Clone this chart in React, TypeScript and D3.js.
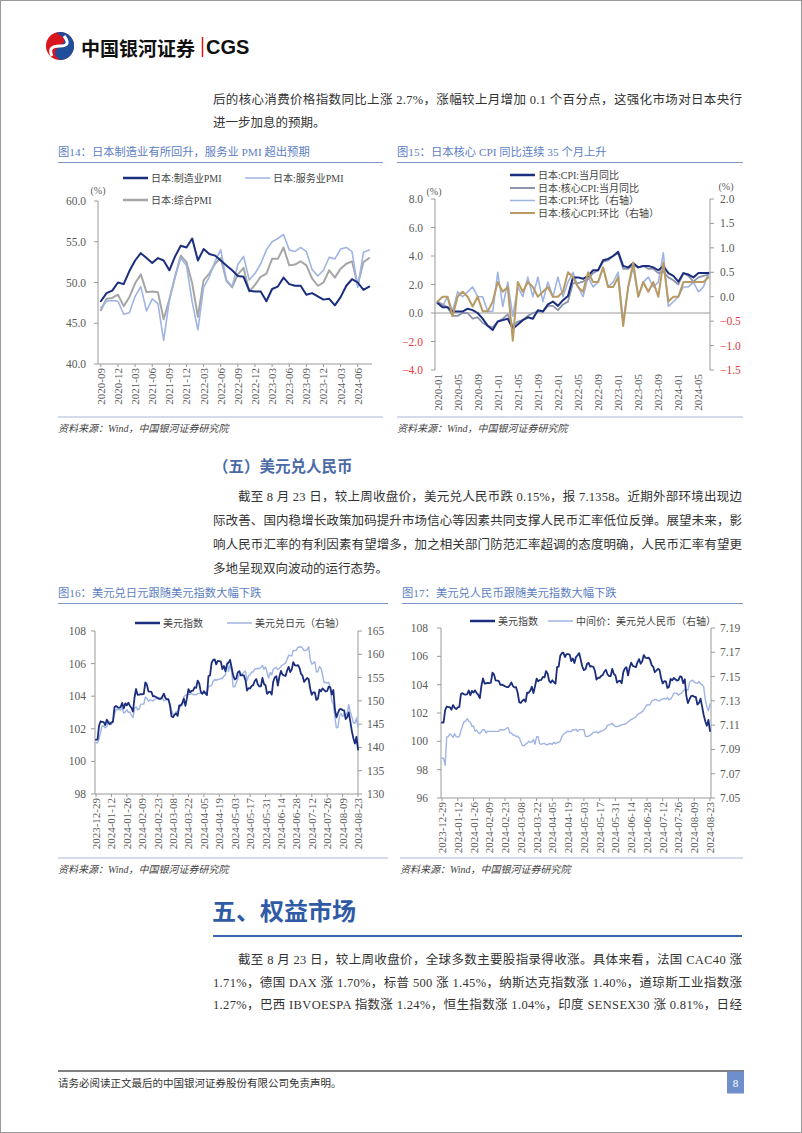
import * as d3 from "d3";

const SERIF = "'Liberation Serif','Noto Sans CJK SC',serif";
const SANS = "'Noto Sans CJK SC','Noto Sans',sans-serif";

const NAVY = "#1b2d7d";
const LIGHT = "#9fb4e3";
const GRAY = "#a6a6a6";
const CORE = "#8d95ad";
const TAN = "#b89a62";
const AXIS = "#9a9a9a";
const LABEL = "#5a5a5a";
const RED = "#e0393e";
const TITLE = "#5c7ec2";
const RULE = "#a9b8d9";

const fmtMonth = d3.timeFormat("%Y-%m");
const fmtDay = d3.timeFormat("%Y-%m-%d");

// 图14 Japan PMI, 2020-09 .. 2024-08
const pmiMonths = d3.timeMonth.range(new Date(2020, 8, 1), new Date(2024, 8, 1)).map(fmtMonth);
const pmiTicks = ["2020-09", "2020-12", "2021-03", "2021-06", "2021-09", "2021-12", "2022-03", "2022-06",
  "2022-09", "2022-12", "2023-03", "2023-06", "2023-09", "2023-12", "2024-03", "2024-06"];
const pmiMfg = [47.7, 48.7, 49.0, 50.0,
  49.8, 51.4, 52.7, 53.6, 53.0, 52.4, 53.0, 52.7, 51.5, 53.2, 54.5, 54.3,
  55.4, 52.7, 54.1, 53.5, 53.3, 52.7, 52.1, 51.5, 50.8, 50.7, 49.0, 48.9,
  48.9, 47.7, 49.2, 49.5, 50.6, 49.8, 49.6, 49.6, 48.5, 48.7, 48.3, 47.9,
  48.0, 47.2, 48.2, 49.6, 50.4, 50.0, 49.1, 49.5];
const pmiSvc = [46.9, 47.7, 47.8, 47.7,
  46.1, 46.3, 48.3, 49.5, 46.5, 48.0, 47.4, 42.9, 47.8, 50.7, 53.0, 52.1,
  47.6, 44.2, 49.4, 50.7, 52.6, 54.0, 50.3, 49.5, 52.2, 53.2, 50.3, 51.1,
  52.3, 54.0, 55.0, 55.4, 55.9, 54.0, 53.8, 54.3, 53.8, 51.6, 50.8, 51.5,
  53.1, 52.9, 54.1, 54.3, 53.8, 49.4, 53.7, 54.0];
const pmiComp = [46.6, 48.0, 48.1, 48.5,
  47.1, 48.2, 49.9, 51.0, 48.8, 48.9, 48.8, 45.5, 47.9, 50.7, 53.3, 52.5,
  49.9, 45.8, 50.3, 51.1, 52.3, 53.0, 50.2, 49.4, 51.0, 51.8, 48.9, 49.7,
  50.7, 51.1, 52.9, 52.9, 54.3, 52.1, 52.2, 52.6, 52.1, 50.5, 49.6, 50.0,
  51.5, 50.6, 51.7, 52.3, 52.6, 49.7, 52.5, 53.0];

// 图15 Japan CPI, 2020-01 .. 2024-07
const cpiMonths = d3.timeMonth.range(new Date(2020, 0, 1), new Date(2024, 7, 1)).map(fmtMonth);
const cpiTicks = ["2020-01", "2020-05", "2020-09", "2021-01", "2021-05", "2021-09", "2022-01", "2022-05",
  "2022-09", "2023-01", "2023-05", "2023-09", "2024-01", "2024-05"];
const cpiYoY = [0.7, 0.4, 0.4, 0.1, 0.1, 0.1, 0.3, 0.2, 0.0, -0.4, -0.9, -1.2,
  -0.6, -0.5, -0.4, -1.1, -0.8, -0.5, -0.3, -0.4, 0.2, 0.1, 0.6, 0.8,
  0.5, 0.9, 1.2, 2.5, 2.5, 2.4, 2.6, 3.0, 3.0, 3.7, 3.8, 4.0,
  4.3, 3.3, 3.2, 3.5, 3.2, 3.3, 3.3, 3.2, 3.0, 3.3, 2.8, 2.6,
  2.2, 2.8, 2.7, 2.5, 2.8, 2.8, 2.8];
const coreYoY = [0.8, 0.6, 0.4, -0.2, -0.2, 0.0, 0.0, -0.4, -0.3, -0.7, -0.9, -1.0,
  -0.6, -0.4, -0.1, -0.9, -0.6, -0.5, -0.2, 0.0, 0.1, 0.1, 0.5, 0.5,
  0.2, 0.6, 0.8, 2.1, 2.1, 2.2, 2.4, 2.8, 3.0, 3.6, 3.7, 4.0,
  4.2, 3.1, 3.1, 3.4, 3.2, 3.3, 3.1, 3.1, 2.8, 2.9, 2.5, 2.3,
  2.0, 2.8, 2.6, 2.2, 2.5, 2.6, 2.7];
const cpiMoM = [-0.1, -0.2, 0.0, -0.3, 0.1, 0.0, 0.1, 0.2, 0.0, 0.0, -0.3, -0.3,
  0.5, -0.2, 0.3, -0.4, 0.2, 0.0, 0.4, 0.0, 0.4, -0.1, 0.3, 0.0,
  0.4, 0.0, 0.3, 0.5, 0.2, 0.0, 0.4, 0.2, 0.3, 0.6, 0.2, 0.3,
  0.5, -0.5, 0.2, 0.6, 0.0, 0.3, 0.4, 0.2, 0.3, 0.9, -0.2, -0.1,
  0.0, 0.2, 0.2, 0.3, 0.1, 0.2, 0.5];
const coreMoM = [-0.1, 0.0, 0.0, -0.4, 0.0, 0.1, 0.0, -0.2, 0.0, -0.3, -0.3, -0.1,
  0.3, 0.1, 0.2, -0.9, 0.3, 0.1, 0.3, 0.2, 0.0, 0.1, 0.2, 0.0,
  0.0, 0.1, 0.5, 0.4, 0.2, 0.1, 0.5, 0.3, 0.3, 0.6, 0.2, 0.2,
  0.4, -0.6, 0.2, 0.7, 0.0, 0.3, 0.1, 0.3, 0.0, 0.7, -0.1, 0.0,
  0.0, 0.3, 0.3, 0.3, 0.3, 0.3, 0.4];

// 图16/17 daily, 2023-12-29 .. 2024-08-23 (weekdays)
const fxDays = d3.timeDay.range(new Date(2023, 11, 29), new Date(2024, 7, 24))
  .filter((d) => d.getDay() % 6 !== 0).map(fmtDay);
const fxTicks = ["2023-12-29", "2024-01-12", "2024-01-26", "2024-02-09", "2024-02-23", "2024-03-08",
  "2024-03-22", "2024-04-05", "2024-04-19", "2024-05-03", "2024-05-17", "2024-05-31", "2024-06-14",
  "2024-06-28", "2024-07-12", "2024-07-26", "2024-08-09", "2024-08-23"];
const dxy = [101.33,
  101.33, 102.20, 102.46, 102.42, 102.41,
  102.23, 102.56, 102.37, 102.28, 102.40,
  102.43, 103.34, 103.40, 103.32, 103.29,
  103.33, 103.59, 103.25, 103.56, 103.44,
  103.60, 103.40, 103.28, 103.05, 103.92,
  104.44, 104.08, 104.10, 104.12, 104.11,
  104.14, 104.85, 104.71, 104.30, 104.28,
  104.26, 103.99, 104.00, 103.95, 103.89,
  103.83, 103.83, 103.96, 104.16, 103.90,
  103.81, 103.82, 103.43, 102.77, 102.71,
  102.87, 102.95, 102.79, 103.43, 103.43,
  103.58, 103.85, 103.41, 103.88, 104.43,
  104.24, 104.32, 104.34, 104.55, 104.51,
  104.96, 104.78, 104.26, 104.14, 104.31,
  104.17, 104.07, 105.24, 105.28, 106.04,
  106.22, 106.26, 105.95, 106.16, 106.15,
  106.12, 105.67, 105.85, 105.53, 105.95,
  106.06, 106.23, 105.76, 105.28, 105.03,
  105.09, 105.46, 105.54, 105.28, 105.30,
  105.26, 104.98, 104.35, 104.49, 104.48,
  104.62, 104.68, 104.93, 105.05, 104.72,
  104.60, 104.61, 105.12, 104.75, 104.67,
  104.14, 104.25, 104.28, 104.10, 104.89,
  105.15, 105.23, 104.65, 105.20, 105.55,
  105.33, 105.28, 105.24, 105.58, 105.80,
  105.48, 105.63, 106.09, 105.90, 105.87,
  105.91, 105.75, 105.38, 105.26, 104.88,
  105.00, 105.12, 105.04, 104.45, 104.09,
  104.24, 104.23, 103.77, 103.84, 104.40,
  104.30, 104.48, 104.38, 104.29, 104.32,
  104.59, 104.55, 104.10, 104.38, 103.21,
  102.70, 102.97, 103.19, 103.22, 103.14,
  103.13, 102.60, 102.71, 103.01, 102.45,
  101.86, 101.42, 101.10, 101.51, 100.72];
const usdjpy = [141.0,
  141.0, 141.9, 143.3, 144.6, 144.6,
  144.2, 144.5, 145.7, 145.3, 144.9,
  145.7, 147.2, 148.1, 148.2, 148.1,
  148.1, 148.4, 147.4, 147.6, 148.1,
  147.5, 147.6, 146.9, 146.4, 148.4,
  148.7, 148.1, 148.2, 149.3, 149.3,
  149.3, 150.8, 150.6, 149.9, 150.2,
  150.1, 150.0, 150.3, 150.5, 150.5,
  150.7, 150.5, 150.7, 150.0, 150.1,
  150.5, 150.0, 149.4, 148.0, 147.1,
  146.9, 147.7, 147.8, 148.3, 149.0,
  149.1, 150.9, 151.2, 151.3, 151.4,
  151.4, 151.6, 151.3, 151.4, 151.3,
  151.6, 151.6, 151.6, 151.7, 151.6,
  151.9, 151.8, 153.0, 153.2, 153.3,
  154.2, 154.6, 154.4, 154.6, 154.6,
  154.8, 154.8, 155.3, 155.6, 158.3,
  156.3, 157.8, 156.4, 153.0, 153.0,
  153.9, 154.7, 155.6, 155.5, 155.8,
  156.2, 156.4, 154.3, 155.4, 155.6,
  156.2, 156.2, 156.8, 156.9, 157.0,
  156.9, 157.2, 157.6, 156.8, 157.3,
  156.1, 154.9, 156.1, 155.6, 156.8,
  157.0, 157.2, 156.7, 157.0, 157.4,
  157.7, 157.9, 158.1, 158.9, 159.8,
  159.7, 159.7, 160.8, 160.8, 160.9,
  161.5, 161.5, 161.7, 161.3, 160.8,
  160.8, 161.0, 161.6, 158.9, 157.9,
  158.1, 158.4, 156.2, 156.3, 157.4,
  157.0, 155.6, 153.9, 154.0, 153.8,
  154.0, 152.8, 150.0, 149.4, 146.5,
  144.2, 144.3, 146.7, 147.3, 146.6,
  147.2, 146.9, 147.4, 149.2, 147.6,
  146.6, 145.3, 145.2, 146.3, 144.4];
const usdcny = [7.0827,
  7.0827, 7.0770, 7.1002, 7.1006, 7.1029,
  7.1016, 7.1000, 7.1029, 7.1006, 7.1002,
  7.1007, 7.1055, 7.1094, 7.1128, 7.1134,
  7.1153, 7.1133, 7.1124, 7.1089, 7.1094,
  7.1049, 7.1060, 7.1039, 7.1030, 7.1049,
  7.1064, 7.1061, 7.1036, 7.1049, 7.1049,
  7.1049, 7.1049, 7.1049, 7.1049, 7.1049,
  7.1049, 7.1064, 7.1060, 7.1062, 7.1064,
  7.1075, 7.1079, 7.1036, 7.1036, 7.1018,
  7.1020, 7.1006, 7.1009, 7.0994, 7.0963,
  7.0934, 7.0930, 7.0943, 7.0950, 7.0968,
  7.0957, 7.0960, 7.0982, 7.0943, 7.1004,
  7.1004, 7.0946, 7.0943, 7.0948, 7.0950,
  7.0938, 7.0938, 7.0949, 7.0947, 7.0943,
  7.0959, 7.0947, 7.0957, 7.0957, 7.0968,
  7.1004, 7.1025, 7.1033, 7.1046, 7.1048,
  7.1049, 7.1048, 7.1063, 7.1058, 7.1066,
  7.1049, 7.1063, 7.1063, 7.1063, 7.1063,
  7.1008, 7.1006, 7.1010, 7.1018, 7.1026,
  7.1042, 7.1040, 7.1045, 7.1036, 7.1045,
  7.1052, 7.1055, 7.1064, 7.1073, 7.1098,
  7.1102, 7.1106, 7.1115, 7.1098, 7.1088,
  7.1088, 7.1091, 7.1097, 7.1102, 7.1106,
  7.1106, 7.1115, 7.1128, 7.1135, 7.1148,
  7.1151, 7.1159, 7.1167, 7.1186, 7.1196,
  7.1201, 7.1211, 7.1225, 7.1247, 7.1268,
  7.1265, 7.1270, 7.1297, 7.1305, 7.1312,
  7.1309, 7.1302, 7.1299, 7.1311, 7.1315,
  7.1321, 7.1313, 7.1327, 7.1309, 7.1315,
  7.1335, 7.1361, 7.1363, 7.1363, 7.1346,
  7.1358, 7.1363, 7.1382, 7.1394, 7.1391,
  7.1389, 7.1450, 7.1465, 7.1470, 7.1455,
  7.1448, 7.1445, 7.1460, 7.1440, 7.1432,
  7.1415, 7.1310, 7.1252, 7.1218, 7.1275];

const line = (x, y, cats, vals) =>
  d3.line().x((_, i) => x(cats[i])).y((d) => y(d))(vals) || "";

const Series = ({ d, color, w }) => (
  <path d={d} fill="none" stroke={color} strokeWidth={w} strokeLinejoin="round" strokeLinecap="round" />
);

const YAxis = ({ x, y, ticks, side, fmt, labelX, color }) => {
  const dir = side === "left" ? -1 : 1;
  const [r0, r1] = y.range();
  return (
    <g>
      <line x1={x} x2={x} y1={r0} y2={r1} stroke={AXIS} />
      {ticks.map((t) => (
        <g key={t}>
          <line x1={x} x2={x + dir * 4} y1={y(t)} y2={y(t)} stroke={AXIS} />
          <text x={labelX} y={y(t)} textAnchor={side === "left" ? "end" : "start"} dominantBaseline="central"
            fill={color ? color(t) : LABEL} fontSize={11.5} fontFamily={SERIF}>{fmt(t)}</text>
        </g>
      ))}
    </g>
  );
};

const XLabels = ({ x, ticks, y0, tick }) => (
  <g>
    {ticks.map((t) => (
      <g key={t}>
        {tick && <line x1={x(t)} x2={x(t)} y1={y0} y2={y0 + 3} stroke={AXIS} />}
        <text transform={`translate(${x(t)},${y0 + 4}) rotate(-90)`} textAnchor="end" dominantBaseline="central"
          fill={LABEL} fontSize={11} fontFamily={SERIF}>{t}</text>
      </g>
    ))}
  </g>
);

const Legend = ({ x, y, color, w, label }) => (
  <g>
    <line x1={x} x2={x + 25} y1={y} y2={y} stroke={color} strokeWidth={w} />
    <text x={x + 28} y={y} dominantBaseline="central" fontSize={10} fill="#444" fontFamily={SERIF}>{label}</text>
  </g>
);

const FigTitle = ({ x, y, x2, label }) => (
  <g>
    <text x={x} y={y} dominantBaseline="central" fontSize={11.3} fill={TITLE} fontFamily={SERIF}>{label}</text>
    <line x1={x} x2={x2} y1={y + 10.5} y2={y + 10.5} stroke="#7f96c8" strokeWidth={1} />
  </g>
);

const Source = ({ x, y, x2 }) => (
  <g>
    <line x1={x} x2={x2} y1={y - 11} y2={y - 11} stroke={RULE} strokeWidth={1} />
    <text x={x} y={y} dominantBaseline="central" fontSize={10} fontStyle="italic" fill="#444" fontFamily={SERIF}>
      资料来源：Wind，中国银河证券研究院
    </text>
  </g>
);

const Chart14 = () => {
  const x = d3.scalePoint().domain(pmiMonths).range([98, 372]).padding(0.5);
  const y = d3.scaleLinear().domain([40, 60]).range([364, 201]);
  return (
    <g>
      <FigTitle x={58} y={152} x2={383} label="图14：日本制造业有所回升，服务业 PMI 超出预期" />
      <Legend x={123} y={178} color={NAVY} w={2.5} label="日本:制造业PMI" />
      <Legend x={245} y={178} color={LIGHT} w={1.5} label="日本:服务业PMI" />
      <Legend x={123} y={200} color={GRAY} w={2.5} label="日本:综合PMI" />
      <text x={98} y={190} textAnchor="middle" dominantBaseline="central" fontSize={10} fill={LABEL} fontFamily={SERIF}>(%)</text>
      <YAxis x={98} y={y} ticks={[40, 45, 50, 55, 60]} side="left" fmt={d3.format(".1f")} labelX={86} />
      <line x1={98} x2={372} y1={364} y2={364} stroke={AXIS} />
      <XLabels x={x} ticks={pmiTicks} y0={364} tick />
      <Series d={line(x, y, pmiMonths, pmiComp)} color={GRAY} w={2} />
      <Series d={line(x, y, pmiMonths, pmiSvc)} color={LIGHT} w={1.6} />
      <Series d={line(x, y, pmiMonths, pmiMfg)} color={NAVY} w={2} />
      <Source x={58} y={428} x2={383} />
    </g>
  );
};

const Chart15 = () => {
  const x = d3.scalePoint().domain(cpiMonths).range([435, 711]).padding(0.5);
  const yl = d3.scaleLinear().domain([-4, 8]).range([370, 199]);
  const yr = d3.scaleLinear().domain([-1.5, 2]).range([370, 199]);
  const neg = (t) => (t < 0 ? RED : LABEL);
  return (
    <g>
      <FigTitle x={397} y={152} x2={743} label="图15：日本核心 CPI 同比连续 35 个月上升" />
      <Legend x={510} y={175} color={NAVY} w={2.5} label="日本:CPI:当月同比" />
      <Legend x={510} y={188} color={CORE} w={2} label="日本:核心CPI:当月同比" />
      <Legend x={510} y={200.5} color={LIGHT} w={1.5} label="日本:CPI:环比（右轴）" />
      <Legend x={510} y={213} color={TAN} w={2} label="日本:核心CPI:环比（右轴）" />
      <text x={434} y={191} textAnchor="middle" dominantBaseline="central" fontSize={10} fill={LABEL} fontFamily={SERIF}>(%)</text>
      <text x={726} y={186} textAnchor="middle" dominantBaseline="central" fontSize={10} fill={LABEL} fontFamily={SERIF}>(%)</text>
      <YAxis x={435} y={yl} ticks={[-4, -2, 0, 2, 4, 6, 8]} side="left" fmt={d3.format(".1f")} labelX={423} color={neg} />
      <YAxis x={710} y={yr} ticks={[-1.5, -1, -0.5, 0, 0.5, 1, 1.5, 2]} side="right" fmt={d3.format(".1f")} labelX={720} color={neg} />
      <line x1={435} x2={710} y1={yl(0)} y2={yl(0)} stroke={AXIS} />
      <XLabels x={x} ticks={cpiTicks} y0={370} />
      <Series d={line(x, yr, cpiMonths, cpiMoM)} color={LIGHT} w={1.6} />
      <Series d={line(x, yl, cpiMonths, coreYoY)} color={CORE} w={1.8} />
      <Series d={line(x, yl, cpiMonths, cpiYoY)} color={NAVY} w={2} />
      <Series d={line(x, yr, cpiMonths, coreMoM)} color={TAN} w={2} />
      <Source x={397} y={428} x2={743} />
    </g>
  );
};

const Chart16 = () => {
  const x = d3.scalePoint().domain(fxDays).range([96, 358]);
  const yl = d3.scaleLinear().domain([98, 108]).range([794, 631]);
  const yr = d3.scaleLinear().domain([130, 165]).range([794, 631]);
  return (
    <g>
      <FigTitle x={58} y={593} x2={388} label="图16：美元兑日元跟随美元指数大幅下跌" />
      <Legend x={135} y={623} color={NAVY} w={2.5} label="美元指数" />
      <Legend x={227} y={623} color={LIGHT} w={1.5} label="美元兑日元（右轴）" />
      <YAxis x={95} y={yl} ticks={[98, 100, 102, 104, 106, 108]} side="left" fmt={d3.format("d")} labelX={86} />
      <YAxis x={358} y={yr} ticks={[130, 135, 140, 145, 150, 155, 160, 165]} side="right" fmt={d3.format("d")} labelX={367} />
      <line x1={95} x2={358} y1={794} y2={794} stroke={AXIS} />
      <XLabels x={x} ticks={fxTicks} y0={794} tick />
      <Series d={line(x, yr, fxDays, usdjpy)} color={LIGHT} w={1.4} />
      <Series d={line(x, yl, fxDays, dxy)} color={NAVY} w={1.8} />
      <Source x={58} y={869} x2={388} />
    </g>
  );
};

const Chart17 = () => {
  const x = d3.scalePoint().domain(fxDays).range([442, 710]);
  const yl = d3.scaleLinear().domain([96, 108]).range([798, 628]);
  const yr = d3.scaleLinear().domain([7.05, 7.19]).range([798, 628]);
  return (
    <g>
      <FigTitle x={402} y={593} x2={743} label="图17：美元兑人民币跟随美元指数大幅下跌" />
      <Legend x={470} y={621} color={NAVY} w={2.5} label="美元指数" />
      <Legend x={548} y={621} color={LIGHT} w={1.5} label="中间价：美元兑人民币（右轴）" />
      <YAxis x={441} y={yl} ticks={[96, 98, 100, 102, 104, 106, 108]} side="left" fmt={d3.format("d")} labelX={428} />
      <YAxis x={711} y={yr} ticks={[7.05, 7.07, 7.09, 7.11, 7.13, 7.15, 7.17, 7.19]} side="right" fmt={d3.format(".2f")} labelX={720} />
      <line x1={441} x2={711} y1={798} y2={798} stroke={AXIS} />
      <XLabels x={x} ticks={fxTicks} y0={798} tick />
      <Series d={line(x, yr, fxDays, usdcny)} color={LIGHT} w={1.4} />
      <Series d={line(x, yl, fxDays, dxy)} color={NAVY} w={1.8} />
      <Source x={400} y={869} x2={743} />
    </g>
  );
};

const Para = ({ lines, y, lh }) => (
  <g>
    {lines.map((l, i) => (
      <text key={i} x={l.x} y={y + i * lh} dominantBaseline="central" fontSize={12.5} fill="#333" fontFamily={SERIF}
        textLength={l.full ? 742 - l.x : undefined} lengthAdjust="spacing">{l.t}</text>
    ))}
  </g>
);

const Header = () => (
  <g>
    <circle cx={60} cy={46} r={14} fill="#d7161e" />
    <path d="M60 32 A14 14 0 0 1 60 60 Q50 53 60 46 Q70 39 56 33 Z" fill="#1f4e9c" />
    <path d="M52 56 Q47 46 60 46 Q72 46 64 36" fill="none" stroke="#fff" strokeWidth={3} />
    <text x={81} y={47} dominantBaseline="central" fontSize={19} fontWeight={700} fill="#111" fontFamily={SANS}>中国银河证券</text>
    <line x1={202.5} x2={202.5} y1={37} y2={57} stroke="#d7161e" strokeWidth={1.5} />
    <text x={206} y={47} dominantBaseline="central" fontSize={20} fontWeight={700} fill="#111" fontFamily="'Liberation Sans',Arial,sans-serif">CGS</text>
  </g>
);

const Body = () => (
  <g>
    <Para y={100} lh={23} lines={[
      { x: 213, full: true, t: "后的核心消费价格指数同比上涨 2.7%，涨幅较上月增加 0.1 个百分点，这强化市场对日本央行" },
      { x: 213, t: "进一步加息的预期。" },
    ]} />
    <text x={213} y={466} dominantBaseline="central" fontSize={15.5} fontWeight={700} fill="#4a6aa8" fontFamily={SERIF}>（五）美元兑人民币</text>
    <Para y={497} lh={24} lines={[
      { x: 238, full: true, t: "截至 8 月 23 日，较上周收盘价，美元兑人民币跌 0.15%，报 7.1358。近期外部环境出现边" },
      { x: 213, full: true, t: "际改善、国内稳增长政策加码提升市场信心等因素共同支撑人民币汇率低位反弹。展望未来，影" },
      { x: 213, full: true, t: "响人民币汇率的有利因素有望增多，加之相关部门防范汇率超调的态度明确，人民币汇率有望更" },
      { x: 213, t: "多地呈现双向波动的运行态势。" },
    ]} />
    <text x={212} y={912} dominantBaseline="central" fontSize={24} fontWeight={700} fill="#2f5aa6" fontFamily={SERIF}>五、权益市场</text>
    <line x1={213} x2={742} y1={936} y2={936} stroke="#3a63b0" strokeWidth={2} />
    <Para y={960} lh={22.5} lines={[
      { x: 238, full: true, t: "截至 8 月 23 日，较上周收盘价，全球多数主要股指录得收涨。具体来看，法国 CAC40 涨" },
      { x: 213, full: true, t: "1.71%，德国 DAX 涨 1.70%，标普 500 涨 1.45%，纳斯达克指数涨 1.40%，道琼斯工业指数涨" },
      { x: 213, full: true, t: "1.27%，巴西 IBVOESPA 指数涨 1.24%，恒生指数涨 1.04%，印度 SENSEX30 涨 0.81%，日经" },
    ]} />
  </g>
);

const Footer = () => (
  <g>
    <line x1={58} x2={744} y1={1071} y2={1071} stroke="#555" strokeWidth={1.5} />
    <text x={58} y={1083} dominantBaseline="central" fontSize={10.5} fill="#333" fontFamily={SERIF}>请务必阅读正文最后的中国银河证券股份有限公司免责声明。</text>
    <rect x={727} y={1071.5} width={17} height={22} fill="#6e8fcb" />
    <text x={735.5} y={1083} textAnchor="middle" dominantBaseline="central" fontSize={11} fill="#fff" fontFamily={SERIF}>8</text>
  </g>
);

export default function App() {
  return (
    <div style={{ position: "absolute", left: 0, top: 0 }}>
      <svg width={802} height={1133} style={{ display: "block", background: "#fff" }}>
        <rect x={0.5} y={0.5} width={801} height={1132} fill="#fff" stroke="#9a9a9a" />
        <Header />
        <Body />
        <Chart14 />
        <Chart15 />
        <Chart16 />
        <Chart17 />
        <Footer />
      </svg>
    </div>
  );
}
